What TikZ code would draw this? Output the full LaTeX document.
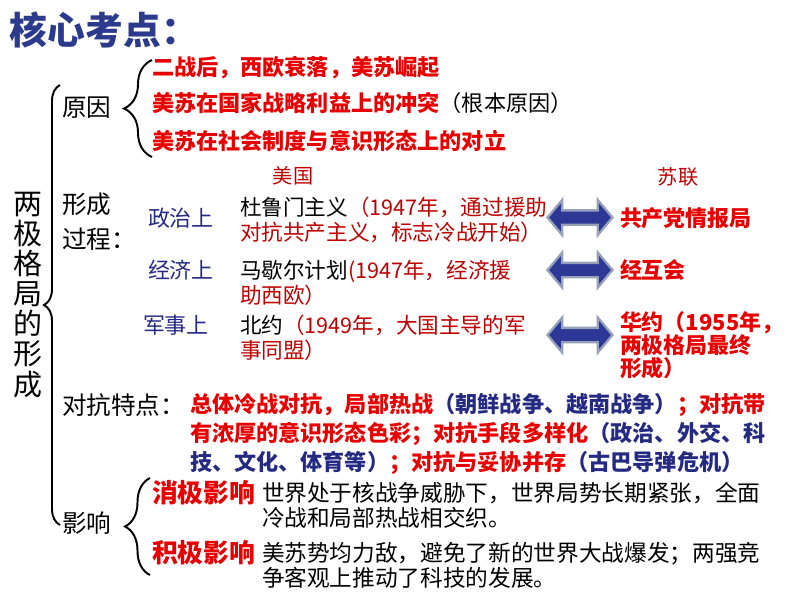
\documentclass[tikz,border=0pt]{standalone}
\usepackage{fontspec}
\setmainfont{Noto Sans CJK SC}
\usetikzlibrary{decorations.pathreplacing,shapes.arrows}
\definecolor{titleblue}{RGB}{44,58,140}
\definecolor{navy}{RGB}{36,42,130}
\definecolor{brightred}{RGB}{232,0,0}
\definecolor{darkred}{RGB}{190,0,0}
\definecolor{arrowfill}{RGB}{45,55,150}
\definecolor{arrowrim}{RGB}{150,160,185}

\begin{document}
\begin{tikzpicture}[
    x=0.02cm, y=-0.02cm,
    every node/.style={inner sep=0pt, outer sep=0pt, anchor=west},
    titletext/.style={font=\fontsize{21.5}{24}\selectfont\bfseries, text=titleblue},
    bigword/.style={anchor=center, align=center, font=\fontsize{16.5}{17.1}\selectfont},
    topic/.style={font=\fontsize{14}{20}\selectfont, align=left},
    causeline/.style={font=\fontsize{12.6}{15}\selectfont\bfseries, text=brightred},
    sidehead/.style={anchor=center, font=\fontsize{11.5}{14}\selectfont, text=darkred},
    aspect/.style={font=\fontsize{12.5}{15}\selectfont, text=navy},
    usline/.style={align=left, font=\fontsize{12.3}{14.2}\selectfont, text=darkred},
    suline/.style={align=left, font=\fontsize{12.5}{13}\selectfont\bfseries, text=brightred},
    featline/.style={align=left, font=\fontsize{12.6}{16.5}\selectfont\bfseries, text=navy},
    effectlabel/.style={font=\fontsize{14.7}{17}\selectfont\bfseries, text=brightred},
    effecttext/.style={align=left, font=\fontsize{12.9}{14.2}\selectfont},
    twinarrow/.style={anchor=center, double arrow, fill=arrowfill, draw=arrowrim,
        line width=1.3pt, inner xsep=0pt, inner ysep=0.12cm, minimum height=1.3cm,
        double arrow head extend=0.21cm, double arrow tip angle=100},
    bracepath/.style={decorate, line width=1.1pt},
]
\useasboundingbox (0,0) rectangle (794,596);

\node[titletext] (title) at (10,30) {核心考点：};
\node[bigword] (bipolar) at (28,295) {两\\极\\格\\局\\的\\形\\成};
\draw[bracepath, decoration={brace, amplitude=0.32cm}] (60,525) -- (60,85);

\node[topic] (cause) at (62,108) {原因};
\draw[bracepath, decoration={brace, amplitude=0.56cm}] (152,157) -- (152,60);
\node[causeline] (cause1) at (152,68) {二战后，西欧衰落，美苏崛起};
\node[causeline] (cause2) at (152,103) {美苏在国家战略利益上的冲突\textcolor{black}{\mdseries（根本原因）}};
\node[causeline] (cause3) at (152,141) {美苏在社会制度与意识形态上的对立};

\node[sidehead] (usa) at (293,176) {美国};
\node[sidehead] (ussr) at (678,177) {苏联};
\node[topic] (forming) at (62,222) {形成\\过程：};
\node[aspect] (politics) at (148,218) {政治上};
\node[aspect] (economy) at (148,270) {经济上};
\node[aspect] (military) at (143,325) {军事上};

\node[usline] (truman) at (240,219.5) {\textcolor{black}{杜鲁门主义}（1947年，通过援助\\对抗共产主义，标志冷战开始）};
\node[usline] (marshall) at (240,282.5) {\textcolor{black}{马歇尔计划}(1947年，经济援\\助西欧）};
\node[usline] (nato) at (240,337.5) {\textcolor{black}{北约}（1949年，大国主导的军\\事同盟）};

\node[twinarrow] (arrPolitics) at (580,217.5) {};
\node[twinarrow] (arrEconomy) at (580,270) {};
\node[twinarrow] (arrMilitary) at (580,335) {};

\node[suline] (cominform) at (620,218) {共产党情报局};
\node[suline] (comecon) at (620,270) {经互会};
\node[suline] (warsaw) at (620,345) {华约（1955年，\\两极格局最终\\形成）};

\node[topic] (feature) at (62,405) {对抗特点：};
\node[featline] (featuretext) at (190,434) {\textcolor{brightred}{总体冷战对抗，局部热战}（朝鲜战争、越南战争）\textcolor{brightred}{；对抗带}\\\textcolor{brightred}{有浓厚的意识形态色彩；对抗手段多样化}（政治、外交、科\\技、文化、体育等）\textcolor{brightred}{；对抗与妥协并存}（古巴导弹危机）};

\node[topic] (effect) at (62,523) {影响};
\draw[bracepath, decoration={brace, amplitude=0.5cm}] (150,575) -- (150,478);
\node[effectlabel] (negative) at (152,493) {消极影响};
\node[effectlabel] (positive) at (152,553) {积极影响};
\node[effecttext] (negtext) at (262,505.5) {世界处于核战争威胁下，世界局势长期紧张，全面\\冷战和局部热战相交织。};
\node[effecttext] (postext) at (262,565.5) {美苏势均力敌，避免了新的世界大战爆发；两强竞\\争客观上推动了科技的发展。};
\end{tikzpicture}
\end{document}
